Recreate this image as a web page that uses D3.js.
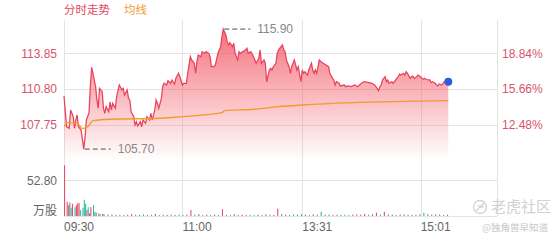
<!DOCTYPE html>
<html>
<head>
<meta charset="utf-8">
<script src="https://cdn.jsdelivr.net/npm/d3@7"></script>
<style>
  body { margin: 0; background: #fff; }
  text { font-family: "Liberation Sans", Arial, "Noto Sans CJK SC", sans-serif; }
  .cjk { font-family: "Noto Sans CJK SC", sans-serif; }
</style>
</head>
<body>
<div id="chart"></div>
<script>
// minute offsets from 09:30 and the price read at each of them
const priceMin = [0,2,4,5,7,8,9,10,11,13,15,16,17,19,20,21,22,24,25,26,27,29,30,31,32,34,35,36,37,39,40,42,44,45,46,48,49,50,51,53,54,55,56,58,59,60,62,63,65,66,67,69,70,71,72,74,75,76,78,79,81,82,84,85,87,88,90,91,93,94,96,97,99,100,101,102,104,105,107,108,110,111,112,114,115,117,119,120,121,123,124,125,126,128,129,130,132,133,134,136,138,139,140,142,144,145,146,148,149,150,152,153,154,156,157,158,159,161,162,163,164,166,167,168,169,171,172,173,175,176,177,178,180,181,182,183,185,186,188,189,190,191,192,194,195,197,199,201,202,204,205,206,207,209,210,213,214,216,218,221,223,226,228,231,234,236,237,239,240,241,242,244,245,246,247,249,250,251,252,254,255,256,258,259,260,261,263,264,265,266,268,269,270,272,273,274,275,277,278,279,280,282,283,284,285,287,288,289,292];
const priceVal = [110.22,107.60,107.47,109.03,108.46,107.47,108.18,108.60,107.60,107.32,105.70,106.75,108.18,108.77,111.01,112.66,112.15,111.01,109.88,109.17,110.87,110.58,109.17,108.75,109.31,108.88,109.73,109.03,109.60,109.17,110.16,111.15,110.73,110.87,110.30,110.73,110.02,109.88,108.88,108.46,107.75,108.03,107.66,108.03,107.60,108.18,107.89,108.46,108.18,108.75,108.18,109.03,109.88,109.60,109.17,110.02,111.01,111.30,111.15,111.52,111.30,111.58,111.24,111.72,112.15,111.86,111.15,111.30,111.30,112.15,113.56,113.28,113.00,112.15,113.14,113.71,113.56,113.99,113.85,113.99,113.85,113.56,112.71,112.71,112.86,113.85,114.41,115.26,115.90,115.41,114.84,114.56,114.75,114.41,114.70,113.85,113.28,113.99,113.85,113.99,114.13,114.28,113.85,113.99,113.56,113.28,113.00,113.43,114.13,113.00,113.28,113.00,111.43,112.43,112.57,112.43,112.71,113.00,113.85,114.13,114.28,114.56,114.13,113.99,113.28,112.71,112.15,112.71,113.28,112.86,112.43,112.71,111.43,112.43,112.15,112.28,112.00,112.43,113.00,112.43,112.15,112.43,112.15,113.28,113.14,113.00,112.86,112.71,112.15,111.72,111.58,111.15,111.43,111.30,111.07,111.15,111.01,111.07,111.01,111.15,111.01,111.30,111.43,111.38,111.30,111.15,111.01,110.67,111.01,111.15,111.58,111.86,111.43,111.58,111.30,111.43,111.30,111.43,111.58,111.86,112.09,112.00,112.15,112.00,112.28,112.15,111.72,111.86,111.92,111.72,111.86,112.00,111.92,111.72,111.64,111.72,111.64,111.58,111.58,111.35,111.43,111.30,111.15,111.07,111.24,111.15,111.30,111.43,111.43];

// average price line
const avgMin = [0,3,10,14,18,22,35,73,90,120,122,145,163,181,219,292];
const avgVal = [107.60,107.95,107.89,107.45,107.60,108.12,108.24,108.32,108.46,108.80,108.97,109.09,109.31,109.45,109.65,109.82];

// volume (万股), direction 1 = up (red), -1 = down (green)
const volMin = [0,2,3,4,5,6,8,9,10,11,12,14,15,16,17,18,19,20,22,23,24,26,27,29,
  30,33,36,39,42,45,48,51,54,57,60,63,66,69,72,75,78,81,84,87,90,93,96,99,102,105,108,111,114,117,120,123,126,129,132,135,138,141,144,147,150,153,156,159,162,165,168,171,174,177,180,183,186,189,192,195,198,201,204,207,210,213,216,219,222,225,228,231,234,237,240,243,246,249,252,255,258,261,264,267,270,273,276,279,282,285,288,291];
const volVal = [75,21,16,20,12,18,13,16,19,19,9,12,24,18,9,13,4,13,16,6,5,4,3,3,
  3,2,2.5,1.5,2,1.5,2,3,2,1.5,2.5,1.5,2,3,1.5,2,1.5,2,1.5,2,1.5,2,9,2,3,1.5,2,1.5,2,1.5,10,2,1.5,2.5,1.5,2,1.5,2,1.5,2,1.5,2.5,2,1.5,11,3,2,1.5,2.5,2,3,2,1.5,2.5,2,6,2,2.5,1.5,2,1.5,2,1.5,2,2.5,2,3,2,2.5,5,2,6,2.5,2,1.5,2,2.5,2,1.5,2,2.5,5,3,2,2.5,2,1.5,2];
const volDir = [1,1,-1,1,-1,1,-1,1,1,1,-1,-1,-1,-1,1,-1,1,1,-1,-1,1,-1,-1,1,
  -1,1,-1,1,-1,-1,1,1,-1,1,-1,1,-1,1,-1,-1,1,-1,1,-1,-1,1,1,-1,1,-1,1,-1,1,-1,1,-1,-1,1,-1,1,1,-1,-1,1,-1,1,-1,1,1,-1,1,-1,-1,1,-1,1,-1,1,-1,-1,1,-1,1,-1,1,-1,-1,1,-1,1,1,-1,1,1,-1,1,-1,1,-1,1,-1,1,1,-1,1,-1,-1,1,-1,1,-1,1];

const priceTicks = [113.85, 110.80, 107.75];
const pctTicks = ["18.84%", "15.66%", "12.48%"];
const volTicks = [52.80];
const timeMin = [0, 90, 181, 271];
const timeLabels = ["09:30", "11:00", "13:31", "15:01"];
const extremes = [{m: 121, v: 115.90}, {m: 15, v: 105.70}];

const W = 560, H = 240;
const svg = d3.select("#chart").append("svg").attr("width", W).attr("height", H);

// scales
const x = d3.scaleLinear().domain([0, 329]).range([64, 497]);
const y = d3.scaleLinear().domain([107.75, 113.85]).range([125, 53.3]);
const v = d3.scaleLinear().domain([0, 52.8]).range([216, 180.3]);

// grid
const grid = svg.append("g").attr("stroke", "#e4e4e4").attr("stroke-width", 1);
grid.selectAll(".vg").data(timeMin.concat([329])).join("line")
  .attr("x1", d => Math.round(x(d)) + 0.5).attr("x2", d => Math.round(x(d)) + 0.5)
  .attr("y1", 20).attr("y2", 216);
grid.selectAll(".hg").data(priceTicks).join("line")
  .attr("x1", 64).attr("x2", 497)
  .attr("y1", d => Math.round(y(d)) + 0.5).attr("y2", d => Math.round(y(d)) + 0.5);
grid.selectAll(".vt").data(volTicks.concat([0])).join("line")
  .attr("x1", 64).attr("x2", 497)
  .attr("y1", d => Math.round(v(d)) + 0.5).attr("y2", d => Math.round(v(d)) + 0.5);

// gradient for the price area
const defs = svg.append("defs");
const grad = defs.append("linearGradient").attr("id", "pg")
  .attr("gradientUnits", "userSpaceOnUse").attr("x1", 0).attr("y1", 28).attr("x2", 0).attr("y2", 160);
grad.append("stop").attr("offset", 0).attr("stop-color", "#f2404f").attr("stop-opacity", 0.75);
grad.append("stop").attr("offset", 1).attr("stop-color", "#f2404f").attr("stop-opacity", 0);

const pts = priceMin.map((m, i) => ({m: m, p: priceVal[i]}));

svg.append("path").datum(pts)
  .attr("fill", "url(#pg)")
  .attr("d", d3.area().x(d => x(d.m)).y0(160).y1(d => y(d.p)));

svg.append("path").datum(pts)
  .attr("fill", "none").attr("stroke", "#e8425c").attr("stroke-width", 1.25)
  .attr("d", d3.line().x(d => x(d.m)).y(d => y(d.p)));

// average line
const avg = avgMin.map((m, i) => ({m: m, p: avgVal[i]}));
svg.append("path").datum(avg)
  .attr("fill", "none").attr("stroke", "#f39a2e").attr("stroke-width", 1.4)
  .attr("d", d3.line().x(d => x(d.m)).y(d => y(d.p)).curve(d3.curveMonotoneX));

// last point
const last = pts[pts.length - 1];
svg.append("circle").attr("cx", x(last.m)).attr("cy", y(last.p)).attr("r", 4).attr("fill", "#2c5ce0");

// high / low labels
extremes.forEach(e => {
  const ex = x(e.m), ey = y(e.v);
  svg.append("line").attr("x1", ex + 1).attr("x2", ex + 27).attr("y1", ey).attr("y2", ey)
    .attr("stroke", "#999").attr("stroke-width", 1.8).attr("stroke-dasharray", "5,3");
  svg.append("text").attr("x", ex + 34).attr("y", ey).attr("dy", "0.35em")
    .attr("fill", "#888").style("font-size", "12px").text(e.v.toFixed(2));
});

// volume bars
const vols = volMin.map((m, i) => ({m: m, v: volVal[i], d: volDir[i]}));
svg.append("g").selectAll("rect").data(vols).join("rect")
  .attr("x", d => x(d.m)).attr("width", 1.1)
  .attr("y", d => v(d.v)).attr("height", d => v(0) - v(d.v))
  .attr("fill", d => d.d > 0 ? "#e8506a" : "#2ebfa5");

// left price axis labels
svg.append("g").selectAll("text").data(priceTicks).join("text")
  .attr("x", 57).attr("y", d => y(d)).attr("dy", "0.35em").attr("text-anchor", "end")
  .attr("fill", "#d6556c").style("font-size", "12px").text(d => d.toFixed(2));

// right percentage labels
svg.append("g").selectAll("text").data(priceTicks).join("text")
  .attr("x", 502).attr("y", d => y(d)).attr("dy", "0.35em")
  .attr("fill", "#d6556c").style("font-size", "12px").text((d, i) => pctTicks[i]);

// volume labels
svg.append("g").selectAll("text").data(volTicks).join("text")
  .attr("x", 57).attr("y", d => v(d)).attr("dy", "0.35em").attr("text-anchor", "end")
  .attr("fill", "#666").style("font-size", "12px").text(d => d.toFixed(2));
svg.append("text").attr("class", "cjk").attr("x", 57).attr("y", 211).attr("dy", "0.35em")
  .attr("text-anchor", "end").attr("fill", "#666").style("font-size", "12px").text("万股");

// time labels
svg.append("g").selectAll("text").data(timeMin).join("text")
  .attr("x", d => x(d)).attr("y", 227).attr("dy", "0.35em")
  .attr("fill", "#666").style("font-size", "12px").text((d, i) => timeLabels[i]);

// legend
svg.append("text").attr("class", "cjk").attr("x", 64).attr("y", 10).attr("dy", "0.35em")
  .attr("fill", "#e0485f").style("font-size", "11.5px").text("分时走势");
svg.append("text").attr("class", "cjk").attr("x", 124).attr("y", 10).attr("dy", "0.35em")
  .attr("fill", "#f39a2e").style("font-size", "11.5px").text("均线");

// watermark
const wm = svg.append("g").attr("opacity", 0.9);
wm.append("circle").attr("cx", 480).attr("cy", 207).attr("r", 6.5)
  .attr("fill", "none").attr("stroke", "#cfcfcf").attr("stroke-width", 1.3);
wm.append("path").attr("d", "M476,211 L484,203 M478,205 Q481,209 484,206")
  .attr("fill", "none").attr("stroke", "#cfcfcf").attr("stroke-width", 1.2);
wm.append("text").attr("class", "cjk").attr("x", 491).attr("y", 207).attr("dy", "0.35em")
  .attr("fill", "#cdcdcd").style("font-size", "15px").text("老虎社区");
wm.append("text").attr("class", "cjk").attr("x", 482).attr("y", 228).attr("dy", "0.35em")
  .attr("fill", "#c2c2c2").style("font-size", "9.5px").text("@独角兽早知道");
</script>
</body>
</html>
